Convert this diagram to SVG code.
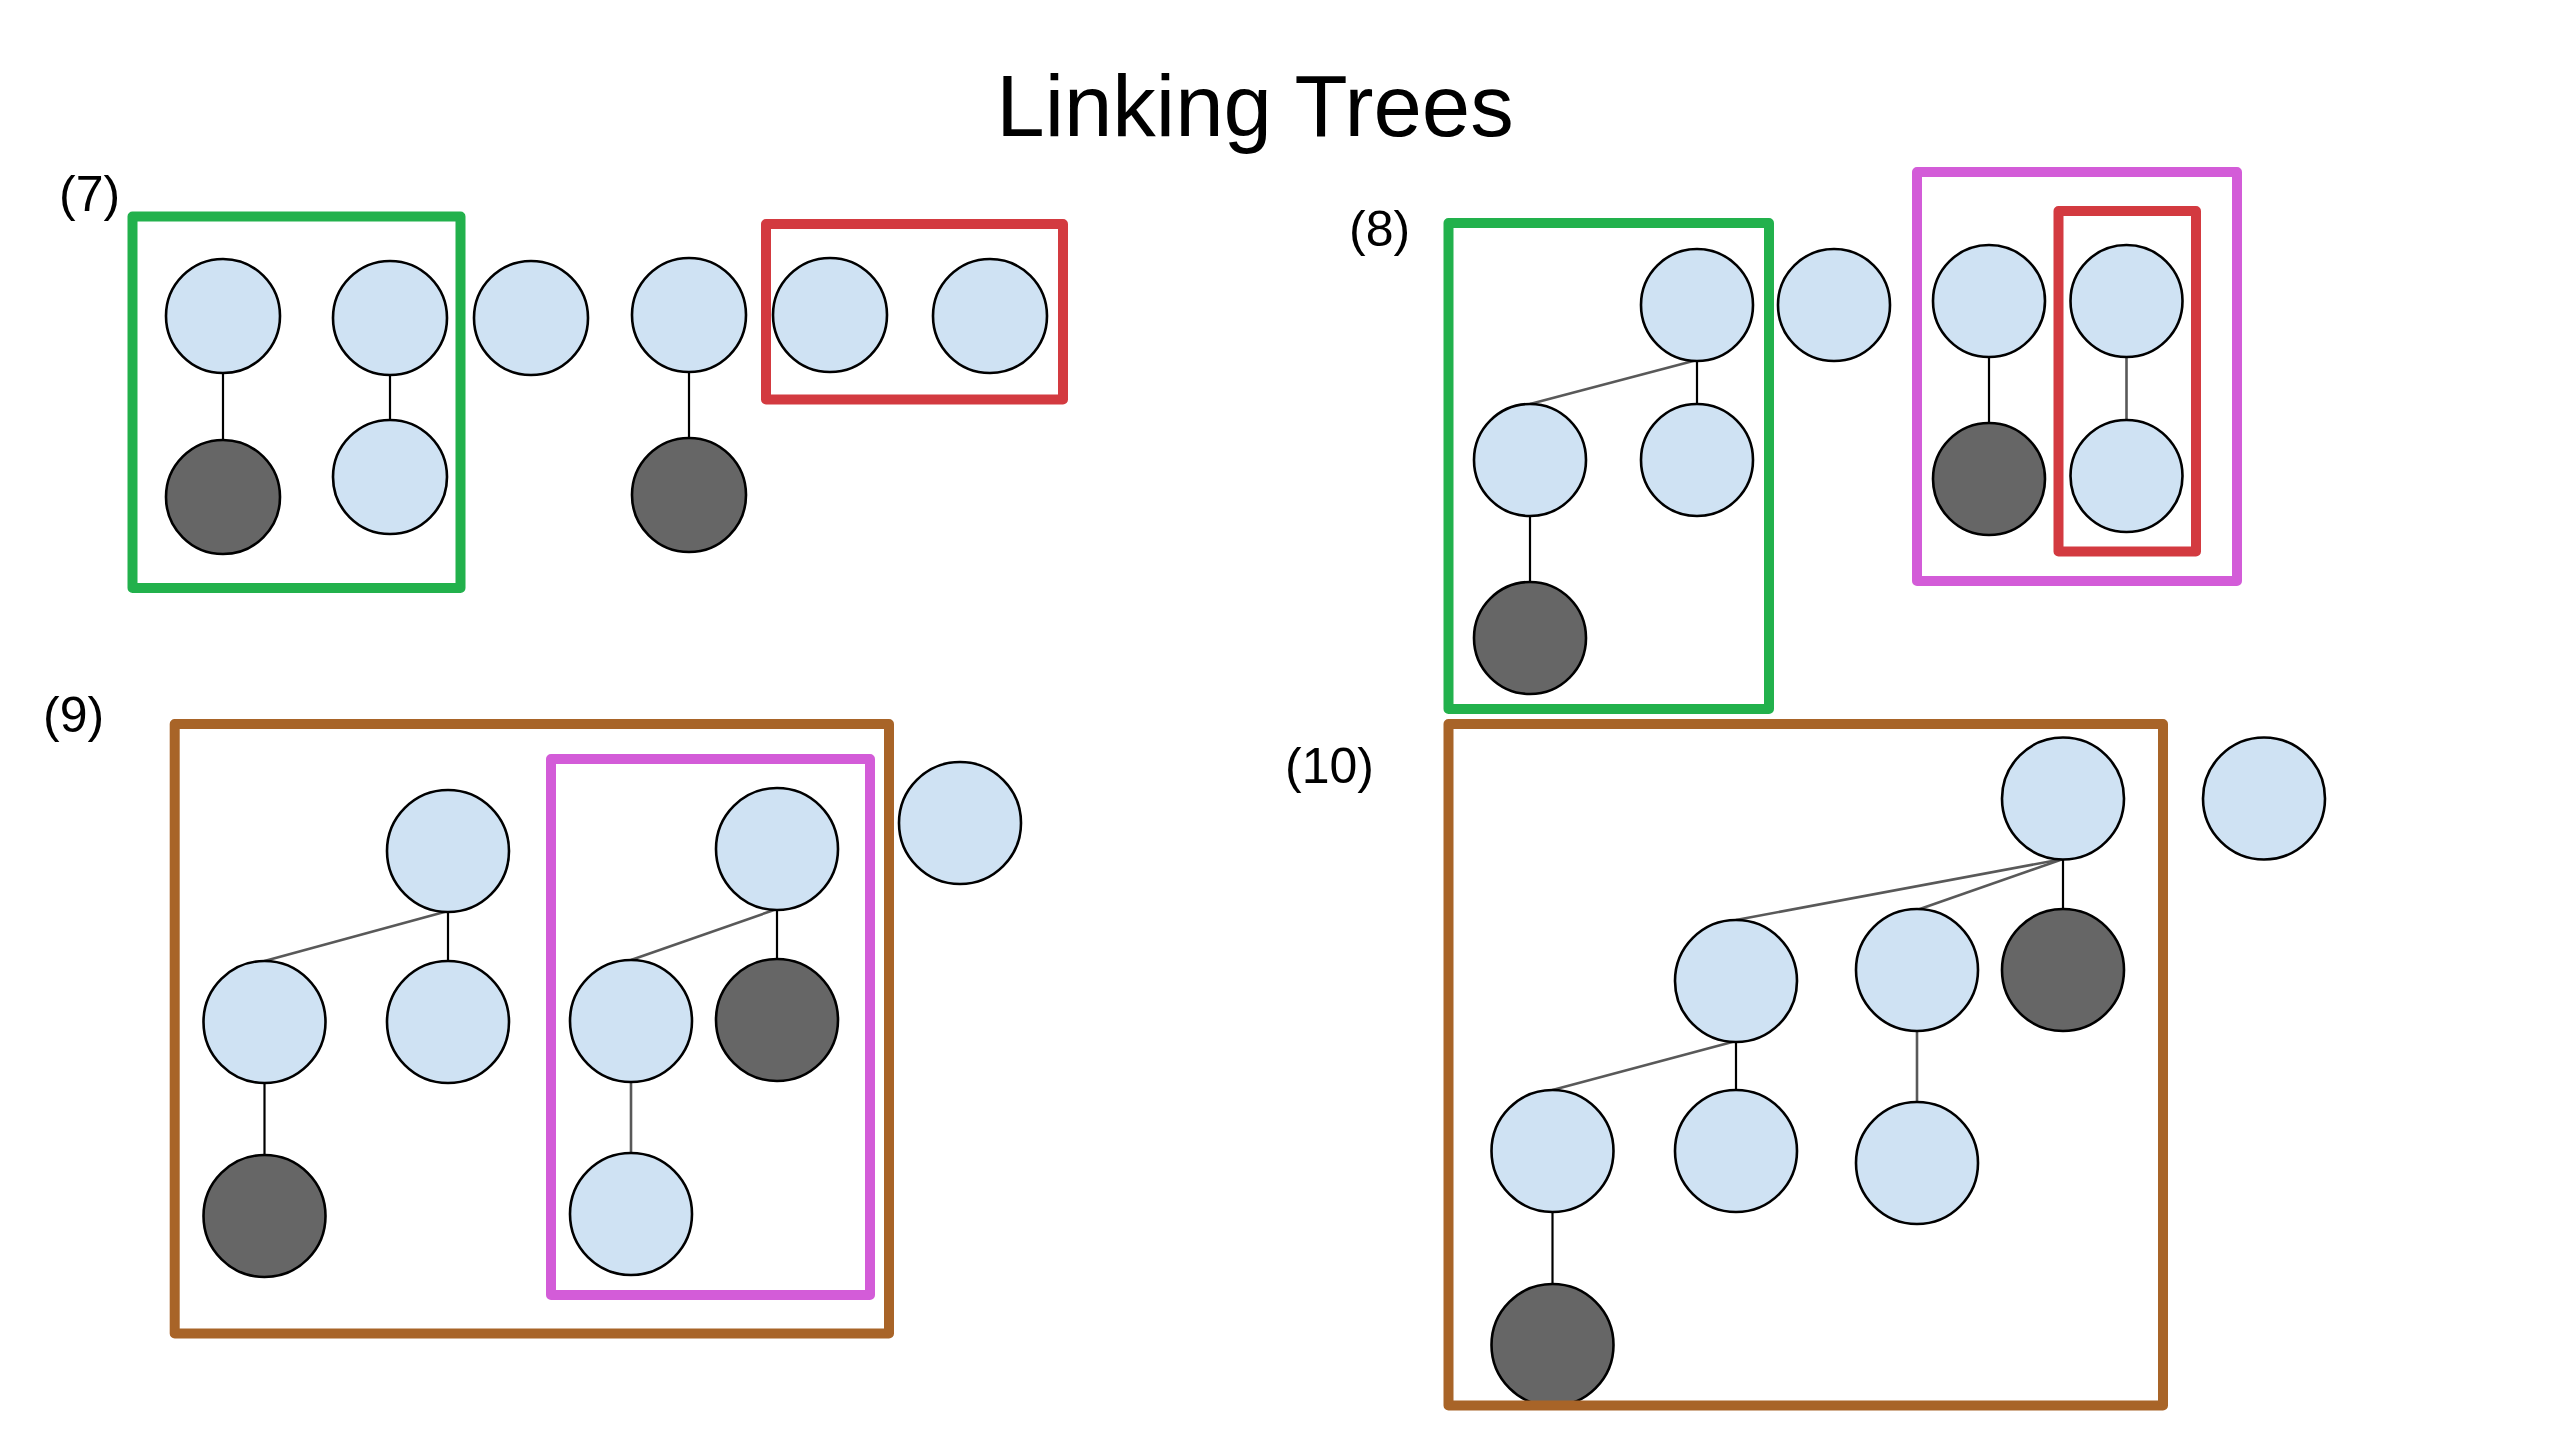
<svg xmlns="http://www.w3.org/2000/svg" width="2576" height="1446" viewBox="0 0 2576 1446">
<style>
.bg{fill:#ffffff}
.t{font-family:"Liberation Sans",Arial,sans-serif;fill:#000000}
.title{font-size:87px;text-anchor:middle}
.lbl{font-size:50px}
.n{fill:#cfe2f3;stroke:#000000;stroke-width:2.6}
.d{fill:#666666;stroke:#000000;stroke-width:2.6}
.eb{stroke:#000000;stroke-width:2.2;fill:none}
.eg{stroke:#595959;stroke-width:2.6;fill:none}
.box{fill:none;stroke-width:10;stroke-linejoin:round}
.green{stroke:#22b14c}
.red{stroke:#d33a40}
.mag{stroke:#d35cd8}
.brown{stroke:#a86428}
</style>
<rect class="bg" x="0" y="0" width="2576" height="1446"/>
<text class="t title" x="1255" y="136">Linking Trees</text>
<text class="t lbl" x="59" y="211">(7)</text>
<text class="t lbl" x="1349" y="246">(8)</text>
<text class="t lbl" x="43" y="732">(9)</text>
<text class="t lbl" x="1285" y="783">(10)</text>

<g id="connectors">
  <!-- panel 7 -->
  <line class="eb" x1="223" y1="372" x2="223" y2="441"/>
  <line class="eb" x1="390" y1="375" x2="390" y2="421"/>
  <line class="eb" x1="689" y1="372" x2="689" y2="439"/>
  <!-- panel 8 -->
  <line class="eg" x1="1697" y1="360" x2="1530" y2="404"/>
  <line class="eb" x1="1697" y1="361" x2="1697" y2="404"/>
  <line class="eb" x1="1530" y1="516" x2="1530" y2="582"/>
  <line class="eb" x1="1989" y1="357" x2="1989" y2="423"/>
  <line class="eg" x1="2126.5" y1="357" x2="2126.5" y2="420"/>
  <!-- panel 9 -->
  <line class="eg" x1="448" y1="911" x2="264.5" y2="961"/>
  <line class="eb" x1="448" y1="912" x2="448" y2="961"/>
  <line class="eb" x1="264.5" y1="1082" x2="264.5" y2="1155"/>
  <line class="eg" x1="777" y1="909" x2="631" y2="960"/>
  <line class="eb" x1="777" y1="910" x2="777" y2="959"/>
  <line class="eg" x1="631" y1="1081" x2="631" y2="1153"/>
  <!-- panel 10 -->
  <line class="eg" x1="2063" y1="859" x2="1736" y2="920"/>
  <line class="eg" x1="2063" y1="859" x2="1917" y2="910"/>
  <line class="eb" x1="2063" y1="859" x2="2063" y2="909"/>
  <line class="eg" x1="1736" y1="1041" x2="1552.5" y2="1090"/>
  <line class="eb" x1="1736" y1="1041" x2="1736" y2="1090"/>
  <line class="eg" x1="1917" y1="1031" x2="1917" y2="1102"/>
  <line class="eb" x1="1552.5" y1="1212" x2="1552.5" y2="1284"/>
</g>

<!-- panel 7 nodes -->
<g id="p7-a"><circle class="n" cx="223" cy="316" r="57"/></g>
<g id="p7-a1"><circle class="d" cx="223" cy="497" r="57"/></g>
<g id="p7-b"><circle class="n" cx="390" cy="318" r="57"/></g>
<g id="p7-b1"><circle class="n" cx="390" cy="477" r="57"/></g>
<g id="p7-c"><circle class="n" cx="531" cy="318" r="57"/></g>
<g id="p7-d"><circle class="n" cx="689" cy="315" r="57"/></g>
<g id="p7-d1"><circle class="d" cx="689" cy="495" r="57"/></g>
<g id="p7-e"><circle class="n" cx="830" cy="315" r="57"/></g>
<g id="p7-f"><circle class="n" cx="990" cy="316" r="57"/></g>

<!-- panel 8 nodes -->
<g id="p8-root"><circle class="n" cx="1697" cy="305" r="56"/></g>
<g id="p8-l"><circle class="n" cx="1530" cy="460" r="56"/></g>
<g id="p8-r"><circle class="n" cx="1697" cy="460" r="56"/></g>
<g id="p8-l1"><circle class="d" cx="1530" cy="638" r="56"/></g>
<g id="p8-s"><circle class="n" cx="1834" cy="305" r="56"/></g>
<g id="p8-m"><circle class="n" cx="1989" cy="301" r="56"/></g>
<g id="p8-m1"><circle class="d" cx="1989" cy="479" r="56"/></g>
<g id="p8-k"><circle class="n" cx="2126.5" cy="301" r="56"/></g>
<g id="p8-k1"><circle class="n" cx="2126.5" cy="476" r="56"/></g>

<!-- panel 9 nodes -->
<g id="p9-root"><circle class="n" cx="448" cy="851" r="61"/></g>
<g id="p9-l"><circle class="n" cx="264.5" cy="1022" r="61"/></g>
<g id="p9-r"><circle class="n" cx="448" cy="1022" r="61"/></g>
<g id="p9-l1"><circle class="d" cx="264.5" cy="1216" r="61"/></g>
<g id="p9-root2"><circle class="n" cx="777" cy="849" r="61"/></g>
<g id="p9-l2"><circle class="n" cx="631" cy="1021" r="61"/></g>
<g id="p9-r2"><circle class="d" cx="777" cy="1020" r="61"/></g>
<g id="p9-l21"><circle class="n" cx="631" cy="1214" r="61"/></g>
<g id="p9-s"><circle class="n" cx="960" cy="823" r="61"/></g>

<!-- panel 10 nodes -->
<g id="p10-root"><circle class="n" cx="2063" cy="798.5" r="61"/></g>
<g id="p10-s"><circle class="n" cx="2264" cy="798.5" r="61"/></g>
<g id="p10-c1"><circle class="n" cx="1736" cy="981" r="61"/></g>
<g id="p10-c2"><circle class="n" cx="1917" cy="970" r="61"/></g>
<g id="p10-c3"><circle class="d" cx="2063" cy="970" r="61"/></g>
<g id="p10-g1"><circle class="n" cx="1552.5" cy="1151" r="61"/></g>
<g id="p10-g2"><circle class="n" cx="1736" cy="1151" r="61"/></g>
<g id="p10-g3"><circle class="n" cx="1917" cy="1163" r="61"/></g>
<g id="p10-gg1"><circle class="d" cx="1552.5" cy="1345" r="61"/></g>

<g id="frames">
  <rect class="box green" x="132.5" y="216.5" width="328" height="371.5"/>
  <rect class="box red" x="766" y="224" width="297" height="175.5"/>
  <rect class="box green" x="1448.5" y="223" width="320.5" height="486"/>
  <rect class="box mag" x="1917" y="172" width="320" height="409"/>
  <rect class="box red" x="2058.5" y="211" width="137.5" height="340.5"/>
  <rect class="box brown" x="174.7" y="724" width="714.3" height="609.5"/>
  <rect class="box mag" x="551" y="759" width="319" height="536"/>
  <rect class="box brown" x="1448.5" y="724" width="714.5" height="681.5"/>
</g>
</svg>
